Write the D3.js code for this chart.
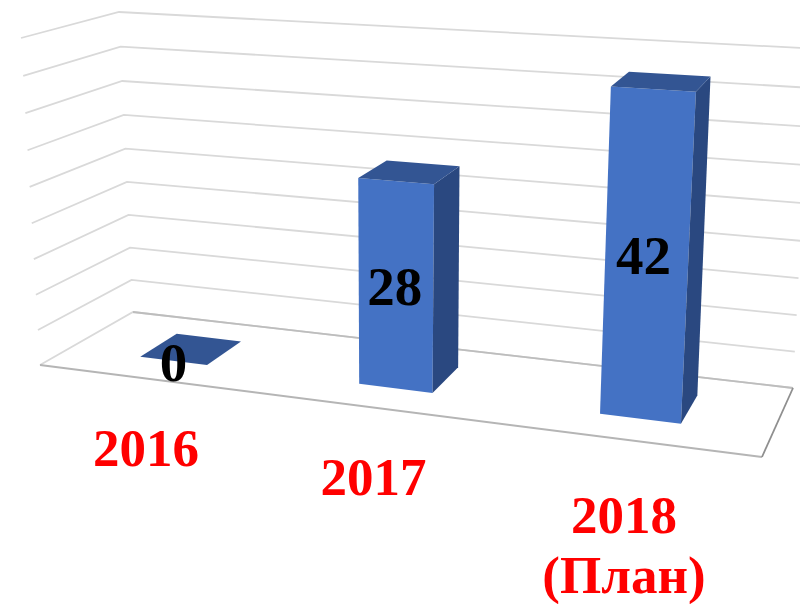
<!DOCTYPE html>
<html>
<head>
<meta charset="utf-8">
<script src="https://cdn.jsdelivr.net/npm/d3@7"></script>
<style>
html,body{margin:0;padding:0;background:#fff;overflow:hidden}
svg{display:block}
text{font-family:"Liberation Serif","Times New Roman",serif;font-weight:bold}
</style>
</head>
<body>
<svg id="c" width="800" height="604"></svg>
<script>
// ---- data ----
const categories = ["2016", "2017", "2018"];
const categoryLines = [["2016"], ["2017"], ["2018", "(План)"]];
const values = [0, 28, 42];
const axisTicks = [0, 5, 10, 15, 20, 25, 30, 35, 40, 45];

// ---- 3D box seen in perspective (the corners of the plot cage) ----
const floorFL = [40, 365], floorFR = [762, 457], floorBL = [133, 312], floorBR = [793, 388];
const topFL = [21, 38], topFR = [785, 84], topBL = [119, 12], topBR = [810, 48.5];
const perspU = 1.155, perspW = 1.045;
const depthFront = 0.32, depthBack = 0.74;
// small label nudges, one per category
const valueNudgeX = [0, -1, -3], valueNudgeY = [20, 19, 17];
const catNudgeX = [-0.5, -1.5, -2.5], catNudgeY = [87, 87, 93];

const svg = d3.select("#c");

const uScale = d3.scaleBand().domain(categories).range([0, 1]).paddingInner(0.685).paddingOuter(0.3425);
const wScale = d3.scaleLinear().domain([0, d3.max(axisTicks)]).range([0, 1]);

const warp = (t, k) => t / (t + k * (1 - t));
const mix = (a, b, t) => [a[0] + (b[0] - a[0]) * t, a[1] + (b[1] - a[1]) * t];

function project(u, v, val) {
  const fu = warp(u, perspU), g = warp(wScale(val), perspW);
  const floor = mix(mix(floorFL, floorBL, v), mix(floorFR, floorBR, v), fu);
  const top = mix(mix(topFL, topBL, v), mix(topFR, topBR, v), fu);
  return mix(floor, top, g);
}
const line = d3.line();
const poly = pts => line(pts) + "Z";

// ---- gridlines ----
svg.append("g").selectAll("path").data(axisTicks).join("path")
  .attr("fill", "none")
  .attr("stroke", "#d9d9d9")
  .attr("stroke-width", 1.8)
  .attr("d", t => line([project(0, 0, t), project(0, 1, t), project(1, 1, t)]));

// ---- floor edges ----
const edges = svg.append("g").attr("fill", "none");
edges.append("path").attr("stroke", "#bdbdbd").attr("stroke-width", 1.8)
  .attr("d", line([project(0, 1, 0), project(1, 1, 0)]));
edges.append("path").attr("stroke", "#b5b5b5").attr("stroke-width", 2)
  .attr("d", line([project(0, 0, 0), project(1, 0, 0)]));
edges.append("path").attr("stroke", "#8f8f8f").attr("stroke-width", 1.8)
  .attr("d", line([project(1, 0, 0), project(1, 1, 0)]));

// ---- bars ----
const bars = svg.append("g").selectAll("g").data(categories).join("g");
bars.each(function (c, i) {
  const g = d3.select(this), v = values[i];
  const u0 = uScale(c), u1 = u0 + uScale.bandwidth();
  const f = depthFront, b = depthBack;
  if (v > 0) {
    g.append("path").attr("fill", "#4472c4")
      .attr("d", poly([project(u0, f, 0), project(u1, f, 0), project(u1, f, v), project(u0, f, v)]));
    g.append("path").attr("fill", "#2a4880")
      .attr("d", poly([project(u1, f, 0), project(u1, b, 0), project(u1, b, v), project(u1, f, v)]));
  }
  g.append("path").attr("fill", "#335593")
    .attr("d", poly([project(u0, f, v), project(u1, f, v), project(u1, b, v), project(u0, b, v)]));
});

// ---- value labels ----
svg.append("g").selectAll("text").data(categories).join("text")
  .attr("text-anchor", "middle")
  .attr("font-size", 55)
  .attr("fill", "#000")
  .attr("x", (c, i) => project(uScale(c) + uScale.bandwidth() / 2, depthFront, values[i] / 2)[0] + valueNudgeX[i])
  .attr("y", (c, i) => project(uScale(c) + uScale.bandwidth() / 2, depthFront, values[i] / 2)[1] + valueNudgeY[i])
  .text((c, i) => values[i]);

// ---- category labels ----
const cat = svg.append("g").selectAll("text").data(categories).join("text")
  .attr("text-anchor", "middle")
  .attr("font-size", 53)
  .attr("fill", "#ff0000")
  .attr("transform", (c, i) => {
    const p = project(uScale(c) + uScale.bandwidth() / 2, 0, 0);
    return `translate(${p[0] + catNudgeX[i]},${p[1] + catNudgeY[i]})`;
  });
cat.selectAll("tspan").data((c, i) => categoryLines[i]).join("tspan")
  .attr("x", 0)
  .attr("y", (d, j) => j * 60)
  .text(d => d);
</script>
</body>
</html>
